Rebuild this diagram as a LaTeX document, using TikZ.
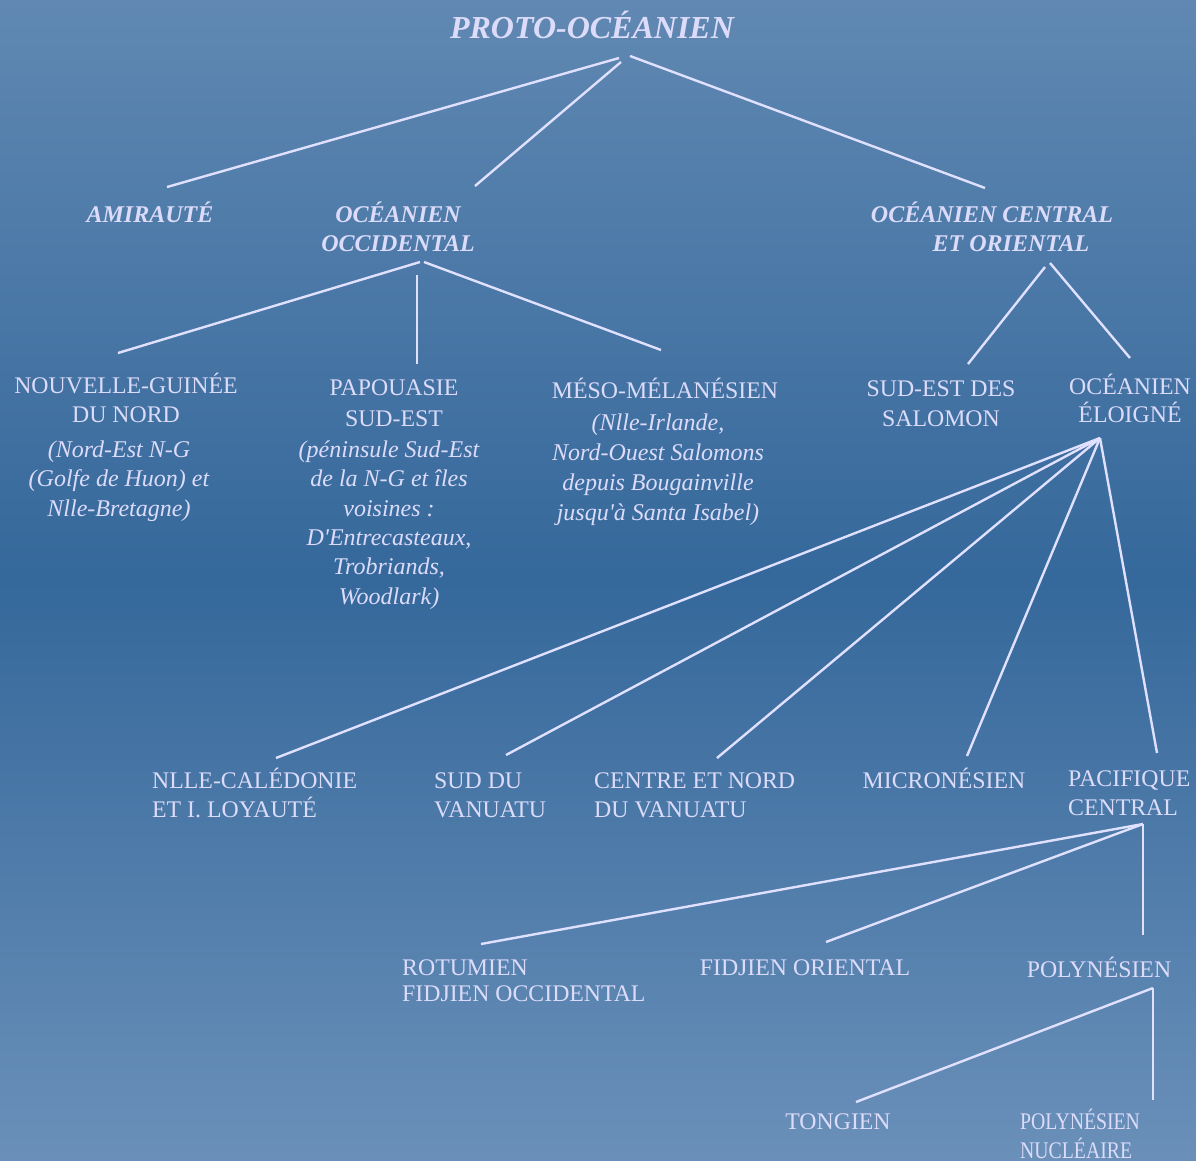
\documentclass[tikz,border=0pt]{standalone}
\usepackage{fontspec}
\setmainfont{Liberation Serif}
\definecolor{bgtop}{RGB}{96,136,178}
\definecolor{bgmid}{RGB}{53,104,155}
\definecolor{bgbot}{RGB}{106,144,185}
\definecolor{txt}{RGB}{220,220,250}
\definecolor{ln}{RGB}{224,224,255}
\begin{document}
\begin{tikzpicture}[x=1pt,y=-1pt,
  lab/.style={inner sep=0pt,text=txt,font=\fontsize{23.8}{29}\selectfont,anchor=base},
  labl/.style={lab,align=left,anchor=base west},
  labc/.style={lab,align=center},
  head/.style={lab,align=center,font=\fontsize{24}{29}\selectfont\bfseries\itshape},
  desc/.style={lab,align=center,font=\fontsize{24}{29.3}\selectfont\itshape},
  link/.style={draw=ln,line width=2.4pt}]
\useasboundingbox (0,0) rectangle (1196,1160);
\shade[top color=bgtop,bottom color=bgbot,middle color=bgmid] (0,0) rectangle (1196,1160);

% nodes (base anchor = baseline of the last line)
\node[head,font=\fontsize{32}{38}\selectfont\bfseries\itshape] (title) at (592,38.5) {PROTO-OCÉANIEN};
\node[head] (amir) at (150,222) {AMIRAUTÉ};
\node[head] (occ) at (398,251) {OCÉANIEN\\OCCIDENTAL};
\node[head] (cent) at (992,251) {OCÉANIEN CENTRAL\\\hspace*{38pt}ET ORIENTAL};

\node[labc] (ng) at (126,422) {NOUVELLE-GUINÉE\\DU NORD};
\node[desc] (ngd) at (119,516) {(Nord-Est N-G\\(Golfe de Huon) et\\Nlle-Bretagne)};
\node[labc] (pap) at (394,426) {PAPOUASIE\\[2pt]SUD-EST};
\node[desc] (papd) at (389,604) {(péninsule Sud-Est\\de la N-G et îles\\voisines :\\D\textquotesingle Entrecasteaux,\\Trobriands,\\Woodlark)};
\node[labc] (meso) at (665,398) {MÉSO-MÉLANÉSIEN};
\node[desc,font=\fontsize{24}{29.7}\selectfont\itshape] (mesod) at (658,520) {(Nlle-Irlande,\\Nord-Ouest Salomons\\depuis Bougainville\\jusqu\textquotesingle à Santa Isabel)};
\node[labc,font=\fontsize{23.8}{30}\selectfont] (sudest) at (941,426) {SUD-EST DES\\SALOMON};
\node[labc,font=\fontsize{23.8}{28}\selectfont] (eloi) at (1130,422) {OCÉANIEN\\ÉLOIGNÉ};

\node[labl] (ncal) at (152,817) {NLLE-CALÉDONIE\\ET I. LOYAUTÉ};
\node[labl] (sudvan) at (434,817) {SUD DU\\VANUATU};
\node[labl] (centre) at (594,817) {CENTRE ET NORD\\DU VANUATU};
\node[labc] (micro) at (944,788) {MICRONÉSIEN};
\node[labl] (paci) at (1068,815) {PACIFIQUE\\CENTRAL};

\node[labl,font=\fontsize{23.8}{26}\selectfont] (rotu) at (402,1001) {ROTUMIEN\\FIDJIEN OCCIDENTAL};
\node[labc] (fidor) at (805,975) {FIDJIEN ORIENTAL};
\node[labc] (poly) at (1099,977) {POLYNÉSIEN};
\node[labc] (tong) at (838,1129) {TONGIEN};
\node[labl,xscale=0.83] (polynuc) at (1020,1158) {POLYNÉSIEN\\NUCLÉAIRE};

% connector end points
\coordinate (tA) at (619,58);
\coordinate (tB) at (621,62);
\coordinate (tC) at (630,56);
\coordinate (amirT) at (167,187);
\coordinate (occT) at (475,186);
\coordinate (centT) at (985,188);
\coordinate (occA) at (420,262);
\coordinate (occB) at (417,275);
\coordinate (occC) at (424,262);
\coordinate (ngT) at (118,353);
\coordinate (papT) at (417,364);
\coordinate (mesoT) at (661,350);
\coordinate (centA) at (1045,267);
\coordinate (centB) at (1050,263);
\coordinate (sudestT) at (968,364);
\coordinate (eloiT) at (1130,358);
\coordinate (eloiA) at (1100,438);
\coordinate (ncalT) at (276,758);
\coordinate (sudvanT) at (506,755);
\coordinate (centreT) at (717,758);
\coordinate (microT) at (967,756);
\coordinate (paciT) at (1157,753);
\coordinate (paciA) at (1143,824);
\coordinate (rotuT) at (481,944);
\coordinate (fidorT) at (826,942);
\coordinate (polyT) at (1143,935);
\coordinate (polyA) at (1153,988);
\coordinate (tongT) at (856,1102);
\coordinate (polynucT) at (1153,1100);

% connectors
\draw[link] (tA) -- (amirT);
\draw[link] (tB) -- (occT);
\draw[link] (tC) -- (centT);
\draw[link] (occA) -- (ngT);
\draw[link] (occB) -- (papT);
\draw[link] (occC) -- (mesoT);
\draw[link] (centA) -- (sudestT);
\draw[link] (centB) -- (eloiT);
\draw[link] (eloiA) -- (ncalT);
\draw[link] (eloiA) -- (sudvanT);
\draw[link] (eloiA) -- (centreT);
\draw[link] (eloiA) -- (microT);
\draw[link] (eloiA) -- (paciT);
\draw[link] (paciA) -- (rotuT);
\draw[link] (paciA) -- (fidorT);
\draw[link] (paciA) -- (polyT);
\draw[link] (polyA) -- (tongT);
\draw[link] (polyA) -- (polynucT);
\end{tikzpicture}
\end{document}
